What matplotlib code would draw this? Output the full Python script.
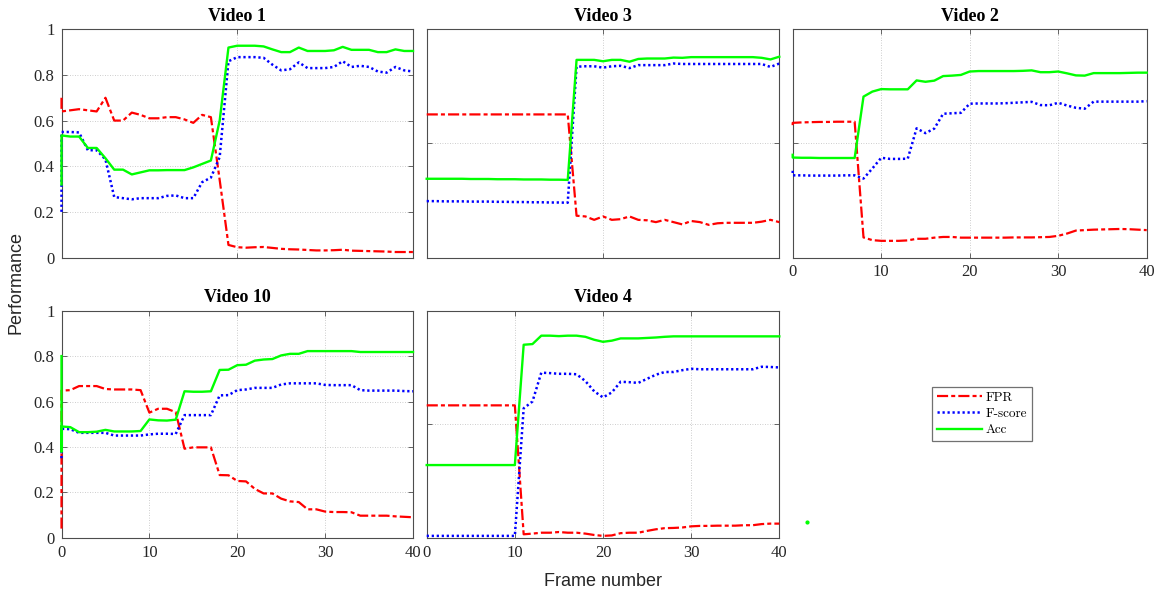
import numpy as np
import matplotlib
matplotlib.use("Agg")
import matplotlib.pyplot as plt

# ---------------------------------------------------------------------------
# Per-frame scores (frames 0..40). Values listed before frame 0 are extra
# samples recorded at frame 0 (they draw the vertical start segments).
# ---------------------------------------------------------------------------
frames = np.arange(41)

v1_fpr = [0.70, 0.64, 0.645, 0.65, 0.645, 0.64, 0.70, 0.60, 0.60, 0.635, 0.625,
          0.61, 0.61, 0.615, 0.615, 0.605, 0.59, 0.625, 0.615, 0.34, 0.055,
          0.045, 0.043, 0.045, 0.046, 0.042, 0.038, 0.036, 0.035, 0.033, 0.031,
          0.031, 0.032, 0.034, 0.030, 0.029, 0.028, 0.027, 0.026, 0.024, 0.024,
          0.024]
v1_fscore = [0.20, 0.55, 0.55, 0.548, 0.47, 0.47, 0.43, 0.265, 0.26, 0.255, 0.26,
             0.26, 0.26, 0.27, 0.272, 0.26, 0.26, 0.33, 0.35, 0.44, 0.86,
             0.878, 0.878, 0.878, 0.875, 0.845, 0.82, 0.825, 0.855, 0.83, 0.83,
             0.83, 0.835, 0.86, 0.835, 0.84, 0.835, 0.815, 0.81, 0.835, 0.82,
             0.815]
v1_acc = [0.32, 0.535, 0.53, 0.53, 0.48, 0.48, 0.435, 0.385, 0.385, 0.364, 0.373,
          0.382, 0.382, 0.383, 0.383, 0.383, 0.395, 0.41, 0.425, 0.60, 0.92,
          0.928, 0.928, 0.928, 0.925, 0.912, 0.90, 0.90, 0.92, 0.905, 0.905,
          0.905, 0.908, 0.923, 0.91, 0.91, 0.91, 0.90, 0.90, 0.912, 0.905,
          0.905]

v3_fpr = [0.627, 0.627, 0.627, 0.627, 0.627, 0.627, 0.627, 0.627, 0.627, 0.627,
          0.627, 0.627, 0.627, 0.627, 0.627, 0.627, 0.627, 0.183, 0.18, 0.165,
          0.18, 0.165, 0.168, 0.18, 0.165, 0.163, 0.155, 0.165, 0.155, 0.145,
          0.16, 0.155, 0.143, 0.15, 0.152, 0.152, 0.152, 0.152, 0.157, 0.165,
          0.155]
v3_fscore = [0.247, 0.247, 0.246, 0.246, 0.246, 0.245, 0.245, 0.245, 0.244, 0.244,
             0.243, 0.243, 0.242, 0.242, 0.241, 0.241, 0.240, 0.836, 0.838, 0.838,
             0.832, 0.838, 0.84, 0.83, 0.843, 0.843, 0.843, 0.843, 0.85, 0.848,
             0.848, 0.848, 0.848, 0.848, 0.848, 0.848, 0.848, 0.848, 0.848, 0.835,
             0.85]
v3_acc = [0.345, 0.345, 0.345, 0.345, 0.345, 0.344, 0.344, 0.344, 0.343, 0.343,
          0.343, 0.342, 0.342, 0.342, 0.341, 0.341, 0.340, 0.866, 0.866, 0.866,
          0.86, 0.866, 0.866, 0.858, 0.87, 0.872, 0.872, 0.872, 0.876, 0.875,
          0.878, 0.878, 0.878, 0.878, 0.878, 0.878, 0.878, 0.878, 0.875, 0.868,
          0.88]

v2_fpr = [0.58, 0.59, 0.592, 0.593, 0.594, 0.594, 0.595, 0.595, 0.595, 0.088,
          0.076, 0.073, 0.073, 0.073, 0.075, 0.082, 0.082, 0.087, 0.09, 0.09,
          0.087, 0.087, 0.087, 0.087, 0.087, 0.087, 0.088, 0.088, 0.088, 0.089,
          0.09, 0.095, 0.105, 0.118, 0.12, 0.122, 0.123, 0.124, 0.125, 0.124,
          0.122, 0.12]
v2_fscore = [0.38, 0.36, 0.36, 0.359, 0.359, 0.359, 0.359, 0.36, 0.36, 0.346,
             0.39, 0.437, 0.432, 0.432, 0.433, 0.566, 0.545, 0.565, 0.63, 0.632,
             0.634, 0.674, 0.675, 0.675, 0.675, 0.676, 0.678, 0.68, 0.682, 0.668,
             0.667, 0.678, 0.666, 0.656, 0.652, 0.683, 0.683, 0.683, 0.683, 0.683,
             0.683, 0.685]
v2_acc = [0.45, 0.438, 0.437, 0.437, 0.436, 0.436, 0.436, 0.436, 0.436, 0.705,
          0.727, 0.738, 0.737, 0.737, 0.737, 0.776, 0.77, 0.775, 0.795, 0.797,
          0.80, 0.815, 0.817, 0.817, 0.817, 0.817, 0.817, 0.818, 0.82, 0.812,
          0.812, 0.815, 0.807, 0.798, 0.797, 0.808, 0.808, 0.808, 0.808, 0.809,
          0.81, 0.81]

v10_fpr = [0.04, 0.648, 0.65, 0.668, 0.668, 0.668, 0.655, 0.653, 0.653, 0.653,
           0.65, 0.551, 0.568, 0.568, 0.553, 0.392, 0.398, 0.398, 0.398, 0.276,
           0.275, 0.25, 0.248, 0.215, 0.195, 0.195, 0.172, 0.16, 0.157, 0.125,
           0.125, 0.115, 0.113, 0.113, 0.112, 0.097, 0.097, 0.097, 0.097, 0.094,
           0.092, 0.09]
v10_fscore = [0.35, 0.48, 0.478, 0.462, 0.462, 0.462, 0.462, 0.45, 0.45, 0.45,
              0.45, 0.455, 0.458, 0.458, 0.457, 0.54, 0.54, 0.54, 0.54, 0.627,
              0.628, 0.65, 0.653, 0.66, 0.66, 0.66, 0.675, 0.68, 0.68, 0.68,
              0.68, 0.673, 0.672, 0.672, 0.672, 0.65, 0.648, 0.648, 0.648, 0.648,
              0.646, 0.645]
v10_acc = [0.80, 0.38, 0.49, 0.487, 0.465, 0.465, 0.467, 0.475, 0.468, 0.468,
           0.468, 0.47, 0.521, 0.517, 0.516, 0.52, 0.645, 0.643, 0.643, 0.645,
           0.739, 0.74, 0.76, 0.762, 0.78, 0.785, 0.787, 0.803, 0.81, 0.81,
           0.822, 0.822, 0.822, 0.822, 0.822, 0.822, 0.818, 0.818, 0.818, 0.818,
           0.818, 0.818, 0.818]

v4_fpr = [0.583, 0.583, 0.583, 0.583, 0.583, 0.583, 0.583, 0.583, 0.583, 0.583,
          0.583, 0.015, 0.018, 0.022, 0.022, 0.025, 0.022, 0.022, 0.018, 0.012,
          0.008, 0.01, 0.02, 0.022, 0.022, 0.03, 0.037, 0.042, 0.043, 0.045,
          0.05, 0.052, 0.052, 0.053, 0.053, 0.053, 0.055, 0.055, 0.06, 0.062,
          0.062]
v4_fscore = [0.008, 0.008, 0.008, 0.008, 0.008, 0.008, 0.008, 0.008, 0.008, 0.008,
             0.008, 0.57, 0.60, 0.727, 0.725, 0.722, 0.722, 0.72, 0.69, 0.645,
             0.618, 0.64, 0.687, 0.685, 0.682, 0.70, 0.718, 0.73, 0.73, 0.738,
             0.744, 0.742, 0.742, 0.742, 0.742, 0.742, 0.742, 0.742, 0.753, 0.752,
             0.75]
v4_acc = [0.32, 0.32, 0.32, 0.32, 0.32, 0.32, 0.32, 0.32, 0.32, 0.32,
          0.32, 0.85, 0.853, 0.89, 0.89, 0.888, 0.89, 0.89, 0.885, 0.872,
          0.863, 0.868, 0.878, 0.878, 0.878, 0.88, 0.882, 0.885, 0.887, 0.887,
          0.887, 0.887, 0.887, 0.887, 0.887, 0.887, 0.887, 0.887, 0.887, 0.887,
          0.887]

titles = ["Video 1", "Video 3", "Video 2", "Video 10", "Video 4"]
series_names = ["FPR", "F-score", "Acc"]

# stray sample drawn in the empty sixth panel
stray_x = [1.6]
stray_y = [0.07]

# ---------------------------------------------------------------------------
W, H = 1163, 597
fig = plt.figure(figsize=(W / 100, H / 100), dpi=100)

AX_COLOR = "#4d4d4d"
RED, BLUE, GREEN = "#ff0000", "#0000ff", "#00ff00"
SERIF = ["Liberation Serif", "DejaVu Serif"]


def px_rect(left, top, right, bottom):
    return [left / W, 1 - bottom / H, (right - left) / W, (bottom - top) / H]


def frame_axis(values):
    lead = len(values) - len(frames)
    return np.concatenate([np.zeros(lead), frames])


cols = [(61.5, 413.0), (426.7, 779.3), (792.7, 1146.7)]
rows = [(29.3, 257.5), (310.7, 537.7)]

panels = [
    dict(title=titles[0], data=(v1_fpr, v1_fscore, v1_acc), cell=(0, 0),
         xt=[0, 20, 40], yt=[0, 0.2, 0.4, 0.6, 0.8, 1], xl=False, yl=True),
    dict(title=titles[1], data=(v3_fpr, v3_fscore, v3_acc), cell=(0, 1),
         xt=[0, 20, 40], yt=[0, 0.5, 1], xl=False, yl=False),
    dict(title=titles[2], data=(v2_fpr, v2_fscore, v2_acc), cell=(0, 2),
         xt=[0, 10, 20, 30, 40], yt=[0, 0.5, 1], xl=True, yl=False),
    dict(title=titles[3], data=(v10_fpr, v10_fscore, v10_acc), cell=(1, 0),
         xt=[0, 10, 20, 30, 40], yt=[0, 0.2, 0.4, 0.6, 0.8, 1], xl=True, yl=True),
    dict(title=titles[4], data=(v4_fpr, v4_fscore, v4_acc), cell=(1, 1),
         xt=[0, 10, 20, 30, 40], yt=[0, 0.5, 1], xl=True, yl=False),
]

styles = [
    dict(color=RED, linestyle=(0, (5.0, 1.4, 1.8, 1.4)), linewidth=1.6),
    dict(color=BLUE, linestyle=(0, (0.9, 1.1)), linewidth=1.8),
    dict(color=GREEN, linestyle="-", linewidth=1.7),
]

handles = None
for p in panels:
    r, c = p["cell"]
    ax = fig.add_axes(px_rect(cols[c][0], rows[r][0], cols[c][1], rows[r][1]))
    lines = []
    for vals, st, name in zip(p["data"], styles, series_names):
        ln, = ax.plot(frame_axis(vals), vals, label=name, clip_on=False,
                      zorder=3, **st)
        lines.append(ln)
    handles = lines
    ax.set_xlim(0, 40)
    ax.set_ylim(0, 1)
    ax.set_xticks(p["xt"])
    ax.set_yticks(p["yt"])
    ax.set_yticklabels([f"{t:g}" for t in p["yt"]])
    if not p["xl"]:
        ax.set_xticklabels([])
    if not p["yl"]:
        ax.set_yticklabels([])
    ax.grid(True, linestyle=(0, (1, 2)), color="#bdbdbd", linewidth=0.6)
    ax.set_axisbelow(True)
    ax.tick_params(direction="in", length=3.5, width=0.6, color=AX_COLOR,
                   top=True, right=True, labelsize=12, labelcolor="#262626",
                   pad=5)
    for lab in ax.get_xticklabels() + ax.get_yticklabels():
        lab.set_family(SERIF)
    for sp in ax.spines.values():
        sp.set_color(AX_COLOR)
        sp.set_linewidth(0.8)
        sp.set_zorder(2.5)
    ax.set_title(p["title"], fontsize=13, fontweight="bold", family=SERIF,
                 pad=6)

# empty sixth panel holding the legend
ax6 = fig.add_axes(px_rect(cols[2][0], rows[1][0], cols[2][1], rows[1][1]))
ax6.set_xlim(0, 40)
ax6.set_ylim(0, 1)
ax6.axis("off")
ax6.plot(stray_x, stray_y, "o", color=GREEN, markersize=2)
leg = ax6.legend(handles, series_names, loc="center",
                 bbox_to_anchor=(0.535, 0.545), frameon=True, fancybox=False,
                 prop=dict(family=["cmr10", "DejaVu Serif"], size=9.5),
                 handlelength=3.4, handletextpad=0.3, labelspacing=0.3,
                 borderpad=0.35, borderaxespad=0)
leg.get_frame().set_edgecolor("#4d4d4d")
leg.get_frame().set_linewidth(0.9)

fig.text(16 / W, 1 - 283 / H, "Performance", rotation=90, ha="center",
         va="center", fontsize=13, family=["Liberation Sans", "DejaVu Sans"],
         color="#262626")
fig.text(603 / W, 1 - 581 / H, "Frame number", ha="center", va="center",
         fontsize=13, family=["Liberation Sans", "DejaVu Sans"], color="#262626")

fig.savefig("out.png", dpi=100)
